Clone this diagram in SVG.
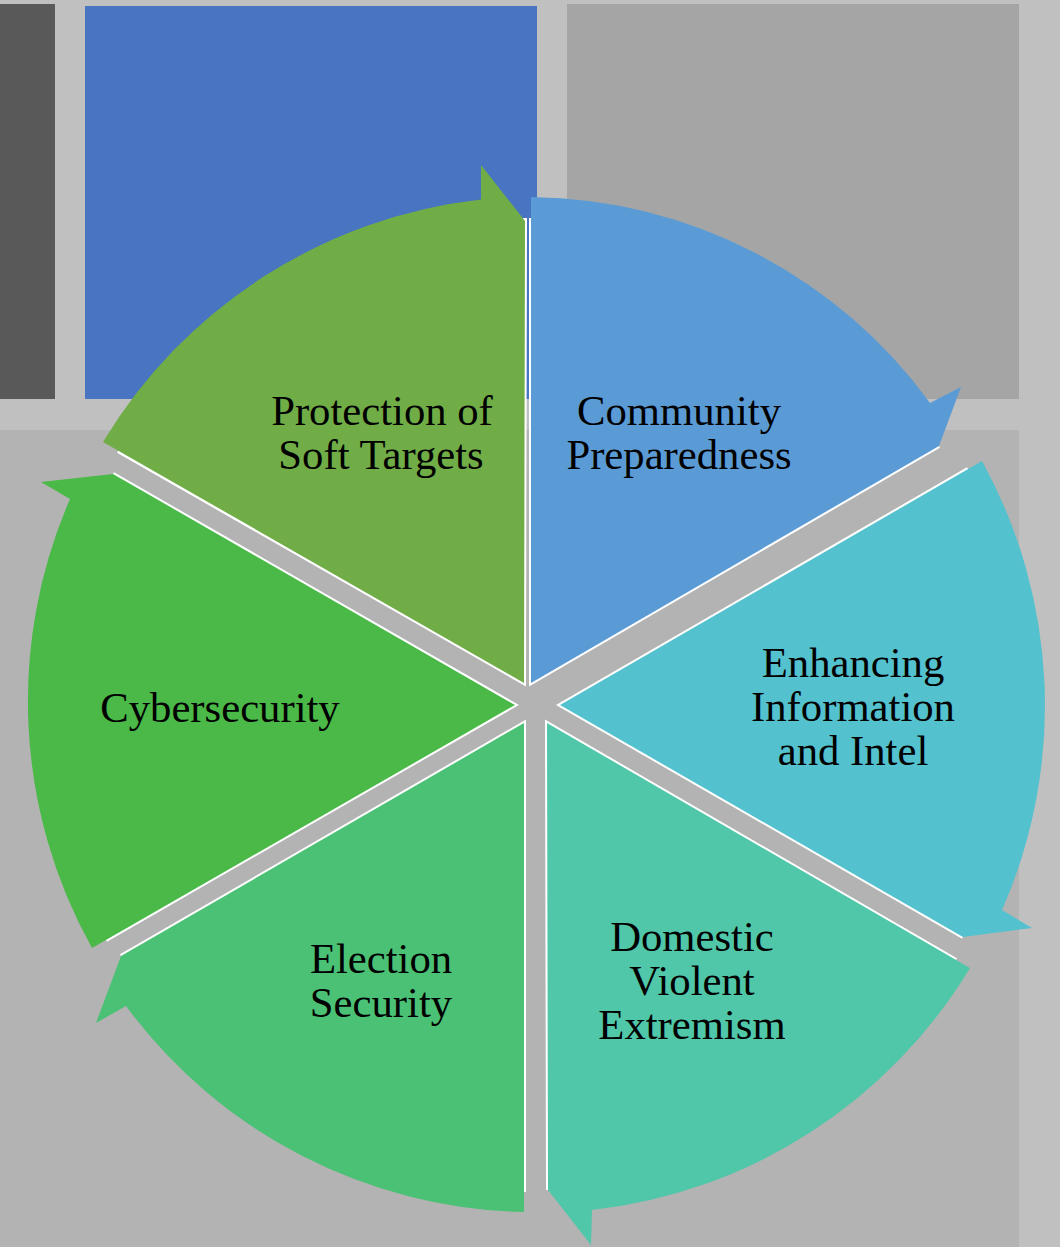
<svg xmlns="http://www.w3.org/2000/svg" width="1060" height="1247" viewBox="0 0 1060 1247">
<style>
.lbl{font-family:"Liberation Serif","Times New Roman",serif;font-size:42.7px;fill:#000;text-anchor:middle}
.edge{fill:none;stroke:#fff;stroke-width:4;stroke-linejoin:miter}
</style>
<rect x="0" y="0" width="1060" height="1247" fill="#c0c0c0"/>
<g id="background">
<rect x="0" y="4" width="55" height="395" fill="#595959"/>
<rect x="85" y="6" width="452" height="393" fill="#4874c2"/>
<rect x="567" y="4" width="452" height="395" fill="#a5a5a5"/>
<rect x="0" y="430" width="1019" height="817" fill="#b3b3b3"/>
</g>
<g id="connectors"></g>
<g id="protection">
<polyline class="edge" points="118,451 524,683 525,218"/>
<path d="M524,683 L103,442 A507,507 0 0 1 481,199.5 L481,165 L525,221 Z" fill="#70ad47"/>
<text class="lbl" x="382" y="425">Protection of</text>
<text class="lbl" x="381" y="469">Soft Targets</text>
</g>
<g id="community">
<polyline class="edge" points="531,218 531,683 939,446"/>
<path d="M531,683 L531,197 A500,500 0 0 1 930,403 L961,387 L939,446 Z" fill="#5b9bd5"/>
<text class="lbl" x="679" y="425">Community</text>
<text class="lbl" x="679" y="469">Preparedness</text>
</g>
<g id="enhancing">
<polyline class="edge" points="968,469 560,705 963,937"/>
<path d="M560,705 L982,461 A507,507 0 0 1 1002,910 L1032,928 L963,937 Z" fill="#54c1ce"/>
<text class="lbl" x="853" y="677">Enhancing</text>
<text class="lbl" x="853" y="721">Information</text>
<text class="lbl" x="853" y="765">and Intel</text>
</g>
<g id="domestic">
<polyline class="edge" points="956,960 547,723 548,1190"/>
<path d="M547,723 L970,968 A507,507 0 0 1 592,1210 L591,1245 L548,1190 Z" fill="#50c7a9"/>
<text class="lbl" x="692" y="951">Domestic</text>
<text class="lbl" x="692" y="995">Violent</text>
<text class="lbl" x="692" y="1039">Extremism</text>
</g>
<g id="election">
<polyline class="edge" points="524,1192 524,723 121,956"/>
<path d="M524,723 L524,1212 A507,507 0 0 1 126,1006 L96,1023 L121,956 Z" fill="#4bc175"/>
<text class="lbl" x="381" y="973">Election</text>
<text class="lbl" x="381" y="1017">Security</text>
</g>
<g id="cybersecurity">
<polyline class="edge" points="106,940 515,705 113,474"/>
<path d="M515,705 L92,948 A507,507 0 0 1 70,499 L41,482 L113,474 Z" fill="#4ab947"/>
<text class="lbl" x="220" y="722">Cybersecurity</text>
</g>
</svg>
